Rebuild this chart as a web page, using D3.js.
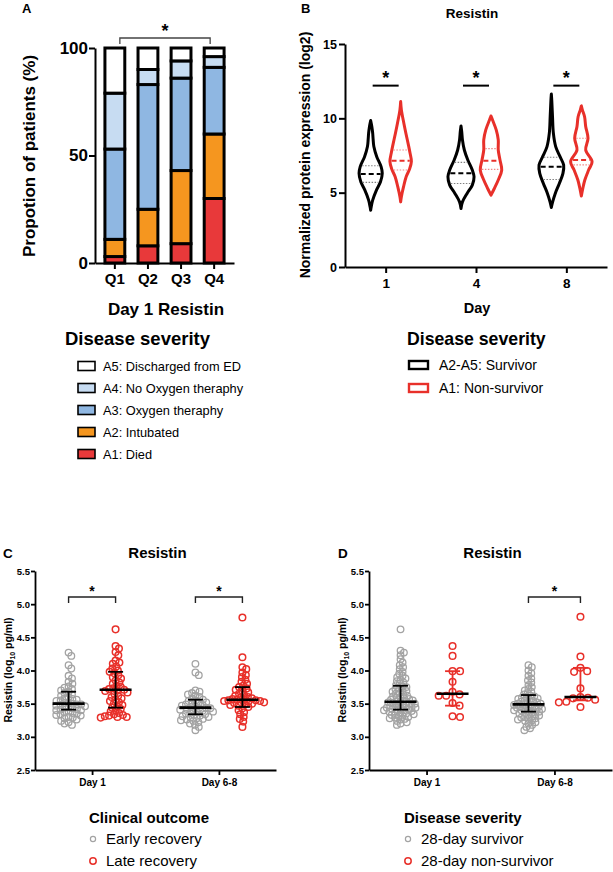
<!DOCTYPE html>
<html>
<head>
<meta charset="utf-8">
<script src="https://cdn.jsdelivr.net/npm/d3@7"></script>
<style>
  body { margin: 0; background: #fff; }
  svg { font-family: "Liberation Sans", Arial, Helvetica, sans-serif; }
</style>
</head>
<body>
<div class="chart"></div>
<script>
// ---------- Panel A data: proportion of patients (%) per Day 1 resistin quartile ----------
var quartiles = ["Q1", "Q2", "Q3", "Q4"];
var severityKeys = ["A1", "A2", "A3", "A4", "A5"];
var severityLabels = ["A5: Discharged from ED", "A4: No Oxygen theraphy", "A3: Oxygen theraphy", "A2: Intubated", "A1: Died"];
var died = [3, 8, 9, 30];
var intubated = [8, 17, 34, 30];
var oxygen = [42, 58, 43, 31];
var noOxygen = [26, 7, 8, 5];
var discharged = [21, 10, 6, 4];

// ---------- Panel B data: violin outlines [value, relative density] ----------
var days = ["1", "4", "8"];
var violinGroups = ["A2-A5: Survivor", "A1: Non-survivor"];
var survivorProfiles = [
  [[3.82, 0], [4.05, 0.04], [4.5, 0.14], [5.17, 0.4], [5.73, 0.68], [6.3, 0.8], [6.75, 0.72], [7.42, 0.42], [8.1, 0.22], [8.6, 0.17], [9.0, 0.14], [9.45, 0.08], [9.85, 0]],
  [[3.94, 0], [4.38, 0.1], [4.95, 0.42], [5.51, 0.78], [6.07, 0.9], [6.52, 0.78], [7.2, 0.47], [7.87, 0.23], [8.55, 0.1], [9.1, 0.05], [9.49, 0]],
  [[4.0, 0], [4.38, 0.09], [4.95, 0.27], [5.62, 0.55], [6.3, 0.8], [6.86, 0.85], [7.42, 0.6], [8.1, 0.3], [9.0, 0.14], [10.12, 0.08], [11.2, 0.03], [11.63, 0]]
];
var nonSurvivorProfiles = [
  [[4.38, 0], [4.72, 0.05], [5.4, 0.2], [6.07, 0.38], [6.6, 0.62], [7.1, 0.74], [7.7, 0.64], [8.1, 0.56], [9.0, 0.36], [9.67, 0.22], [10.57, 0.05], [11.13, 0]],
  [[4.83, 0], [5.28, 0.23], [5.85, 0.5], [6.52, 0.74], [7.2, 0.62], [7.87, 0.5], [8.55, 0.5], [9.22, 0.36], [9.9, 0.1], [10.16, 0]],
  [[4.77, 0], [5.28, 0.1], [5.85, 0.24], [6.52, 0.5], [7.08, 0.74], [7.87, 0.3], [8.66, 0.46], [9.45, 0.3], [10.12, 0.22], [10.57, 0.07], [10.84, 0]]
];
// [lower quartile, median, upper quartile]
var survivorQuartiles = [[5.69, 6.25, 6.81], [5.62, 6.30, 7.04], [5.89, 6.75, 7.38]];
var nonSurvivorQuartiles = [[6.52, 7.15, 7.87], [6.57, 7.15, 7.96], [6.87, 7.20, 8.66]];

// ---------- Panel C / D data: resistin (log10 pg/ml) ----------
var timepoints = ["Day 1", "Day 6-8"];
var outcomeGroups = ["Early recovery", "Late recovery"];
var earlyDay1 = [4.27, 4.22, 4.08, 4.03, 3.92, 3.88, 3.83, 3.80, 3.76, 3.74, 3.72, 3.70, 3.68, 3.66, 3.64, 3.62, 3.60, 3.58, 3.57, 3.56, 3.55, 3.54, 3.52, 3.51, 3.50, 3.49, 3.49, 3.48, 3.47, 3.46, 3.45, 3.44, 3.43, 3.42, 3.41, 3.40, 3.40, 3.38, 3.37, 3.36, 3.35, 3.34, 3.33, 3.32, 3.30, 3.29, 3.28, 3.26, 3.24, 3.22, 3.20, 3.18];
var lateDay1 = [4.62, 4.37, 4.33, 4.28, 4.23, 4.15, 4.12, 4.10, 4.06, 4.03, 4.00, 3.98, 3.96, 3.93, 3.90, 3.88, 3.85, 3.82, 3.80, 3.77, 3.75, 3.73, 3.72, 3.71, 3.70, 3.69, 3.67, 3.65, 3.62, 3.60, 3.58, 3.56, 3.54, 3.52, 3.50, 3.48, 3.46, 3.44, 3.42, 3.40, 3.38, 3.36, 3.34, 3.33, 3.32, 3.31, 3.30, 3.30, 3.29];
var earlyDay68 = [4.10, 3.97, 3.93, 3.70, 3.68, 3.66, 3.64, 3.62, 3.60, 3.58, 3.56, 3.55, 3.54, 3.52, 3.51, 3.50, 3.49, 3.48, 3.47, 3.46, 3.45, 3.44, 3.43, 3.43, 3.42, 3.41, 3.40, 3.39, 3.38, 3.37, 3.36, 3.35, 3.34, 3.33, 3.32, 3.31, 3.30, 3.29, 3.28, 3.27, 3.26, 3.25, 3.24, 3.22, 3.20, 3.18, 3.15, 3.10];
var lateDay68 = [4.80, 4.20, 4.05, 4.02, 3.97, 3.93, 3.90, 3.86, 3.83, 3.80, 3.77, 3.75, 3.73, 3.71, 3.69, 3.67, 3.65, 3.63, 3.62, 3.60, 3.59, 3.58, 3.57, 3.56, 3.56, 3.55, 3.55, 3.54, 3.54, 3.53, 3.52, 3.52, 3.51, 3.50, 3.49, 3.48, 3.47, 3.45, 3.43, 3.40, 3.37, 3.34, 3.30, 3.27, 3.23, 3.15];
// [lower bar, median, upper bar]
var earlySummary = [[3.41, 3.50, 3.68], [3.34, 3.44, 3.56]];
var lateSummary = [[3.44, 3.71, 3.98], [3.45, 3.56, 3.75]];

var survivalGroups = ["28-day survivor", "28-day non-survivor"];
var survivorDay1 = [4.62, 4.30, 4.27, 4.23, 4.17, 4.12, 4.08, 4.05, 4.02, 3.98, 3.95, 3.92, 3.90, 3.88, 3.86, 3.84, 3.82, 3.80, 3.78, 3.76, 3.75, 3.73, 3.72, 3.70, 3.69, 3.68, 3.66, 3.65, 3.64, 3.62, 3.61, 3.60, 3.59, 3.58, 3.57, 3.56, 3.55, 3.54, 3.53, 3.53, 3.52, 3.51, 3.50, 3.50, 3.49, 3.48, 3.47, 3.47, 3.46, 3.45, 3.44, 3.44, 3.43, 3.42, 3.42, 3.41, 3.40, 3.40, 3.39, 3.38, 3.37, 3.36, 3.35, 3.34, 3.33, 3.32, 3.31, 3.30, 3.29, 3.28, 3.27, 3.26, 3.24, 3.22, 3.20, 3.18];
var nonSurvivorDay1 = [4.37, 4.22, 3.99, 3.99, 3.83, 3.68, 3.64, 3.62, 3.62, 3.51, 3.47, 3.31, 3.30];
var survivorDay68 = [4.08, 4.05, 4.00, 3.96, 3.92, 3.88, 3.85, 3.82, 3.78, 3.75, 3.72, 3.70, 3.68, 3.66, 3.64, 3.62, 3.61, 3.60, 3.59, 3.58, 3.57, 3.56, 3.55, 3.54, 3.53, 3.52, 3.51, 3.50, 3.50, 3.49, 3.48, 3.48, 3.47, 3.46, 3.45, 3.45, 3.44, 3.43, 3.42, 3.42, 3.41, 3.40, 3.40, 3.39, 3.38, 3.37, 3.36, 3.35, 3.34, 3.33, 3.32, 3.31, 3.30, 3.29, 3.28, 3.27, 3.26, 3.25, 3.24, 3.22, 3.20, 3.18, 3.15, 3.13, 3.10];
var nonSurvivorDay68 = [4.81, 4.21, 4.04, 3.99, 3.98, 3.73, 3.60, 3.59, 3.58, 3.56, 3.53, 3.52, 3.45];
var survivorSummary = [[3.41, 3.53, 3.77], [3.38, 3.49, 3.63]];
var nonSurvivorSummary = [[3.47, 3.65, 3.99], [3.55, 3.60, 4.04]];

// ---------- common ----------
var font = "'Liberation Sans', Arial, Helvetica, sans-serif";
var red = "#e8302a";
var gray = "#a3a3a3";

var svg = d3.select(".chart")
  .append("svg")
  .attr("width", 613)
  .attr("height", 872);

function styleAxis(g, fontSize, strokeWidth) {
  g.attr("font-family", font).attr("font-size", fontSize).attr("font-weight", "bold");
  g.select(".domain").attr("stroke-width", strokeWidth);
  g.selectAll(".tick line").attr("stroke-width", strokeWidth);
  g.selectAll(".tick text").attr("fill", "#000");
}

function label(x, y, text, size, weight, anchor) {
  return svg.append("text")
    .attr("x", x).attr("y", y)
    .attr("font-size", size)
    .attr("font-weight", weight || "bold")
    .attr("text-anchor", anchor || "start")
    .text(text);
}

// ================= Panel A =================
label(22, 13, "A", 13);

var xA = d3.scaleBand().domain(quartiles).range([95, 234]).paddingInner(0.4).paddingOuter(0.3);
var yA = d3.scaleLinear().domain([0, 100]).range([263, 48]);
var colorA = d3.scaleOrdinal().domain(severityKeys).range(["#e8393a", "#f5961f", "#8fb7e2", "#c7dcf2", "#ffffff"]);

var rowsA = quartiles.map(function(q, i) {
  return { q: q, A1: died[i], A2: intubated[i], A3: oxygen[i], A4: noOxygen[i], A5: discharged[i] };
});
var stackA = d3.stack().keys(severityKeys)(rowsA);

var barsA = svg.append("g");
stackA.forEach(function(layer) {
  barsA.selectAll(null)
    .data(layer)
    .enter()
    .append("rect")
    .attr("x", d => xA(d.data.q))
    .attr("y", d => yA(d[1]))
    .attr("width", xA.bandwidth())
    .attr("height", d => yA(d[0]) - yA(d[1]))
    .attr("fill", colorA(layer.key))
    .attr("stroke", "#000")
    .attr("stroke-width", 3);
});

var axA_y = svg.append("g")
  .attr("transform", "translate(95,0)")
  .call(d3.axisLeft(yA).tickValues([0, 50, 100]).tickSize(6).tickPadding(1).tickSizeOuter(0));
styleAxis(axA_y, 17, 2);
var axA_x = svg.append("g")
  .attr("transform", "translate(0,263)")
  .call(d3.axisBottom(xA).tickSize(6).tickPadding(4).tickSizeOuter(0));
styleAxis(axA_x, 15, 2);

svg.append("text")
  .attr("transform", "translate(35,156) rotate(-90)")
  .attr("text-anchor", "middle")
  .attr("font-size", 17)
  .attr("font-weight", "bold")
  .text("Propotion of patients (%)");

label(166, 315, "Day 1 Resistin", 17, "bold", "middle");

// significance bracket Q1 vs Q4
var bx0 = xA("Q1") + xA.bandwidth() / 2 + 5, bx1 = xA("Q4") + xA.bandwidth() / 2 - 4;
svg.append("path")
  .attr("d", `M${bx0},44V38H${bx1}V44`)
  .attr("fill", "none").attr("stroke", "#444").attr("stroke-width", 1.3);
label((bx0 + bx1) / 2, 37, "*", 18, "bold", "middle");

// legend A
label(65, 345, "Disease severity", 18.5);
var legA = d3.scalePoint().domain(severityLabels).range([366, 454]);
var legKeyA = ["A5", "A4", "A3", "A2", "A1"];
severityLabels.forEach(function(t, i) {
  svg.append("rect")
    .attr("x", 78).attr("y", legA(t) - 4.5)
    .attr("width", 17).attr("height", 9)
    .attr("fill", colorA(legKeyA[i]))
    .attr("stroke", "#000").attr("stroke-width", 1.6);
  label(103, legA(t) + 4.5, t, 12.8, "normal");
});

// ================= Panel B =================
label(301, 13, "B", 13);
label(472, 18, "Resistin", 13.5, "bold", "middle");

var xB = d3.scalePoint().domain(days).range([345, 607]).padding(0.45);
var gB = d3.scaleBand().domain(violinGroups).range([-30, 30]);
var yB = d3.scaleLinear().domain([0, 15]).range([267, 44]);
var wB = d3.scaleLinear().domain([0, 1]).range([0, 14.5]);

function densityAt(profile, v) {
  var i = d3.bisector(d => d[0]).left(profile, v);
  if (i <= 0) return profile[0][1];
  if (i >= profile.length) return profile[profile.length - 1][1];
  var a = profile[i - 1], b = profile[i];
  return a[1] + (b[1] - a[1]) * (v - a[0]) / (b[0] - a[0]);
}

function drawViolin(profile, quart, cx, color, lightColor) {
  var area = d3.area()
    .curve(d3.curveCatmullRom)
    .y(d => yB(d[0]))
    .x0(d => cx - wB(d[1]))
    .x1(d => cx + wB(d[1]));
  svg.append("path")
    .attr("d", area(profile))
    .attr("fill", "#fff")
    .attr("stroke", color)
    .attr("stroke-width", 3)
    .attr("stroke-linejoin", "round");
  [quart[0], quart[2]].forEach(function(q) {
    var w = wB(densityAt(profile, q)) - 1.5;
    svg.append("line")
      .attr("x1", cx - w).attr("x2", cx + w)
      .attr("y1", yB(q)).attr("y2", yB(q))
      .attr("stroke", lightColor).attr("stroke-width", 1.1)
      .attr("stroke-dasharray", "1.5,1.5");
  });
  var wm = wB(densityAt(profile, quart[1])) - 1.5;
  svg.append("line")
    .attr("x1", cx - wm).attr("x2", cx + wm)
    .attr("y1", yB(quart[1])).attr("y2", yB(quart[1]))
    .attr("stroke", color).attr("stroke-width", 2)
    .attr("stroke-dasharray", "5,3");
}

days.forEach(function(d, i) {
  drawViolin(survivorProfiles[i], survivorQuartiles[i], xB(d) + gB.bandwidth() / 2 + gB(violinGroups[0]), "#000", "#808080");
  drawViolin(nonSurvivorProfiles[i], nonSurvivorQuartiles[i], xB(d) + gB.bandwidth() / 2 + gB(violinGroups[1]), red, "#f08888");
  var s0 = xB(d) + gB(violinGroups[0]) + gB.bandwidth() / 2 + 2;
  var s1 = xB(d) + gB(violinGroups[1]) + gB.bandwidth() / 2 - 2;
  svg.append("line")
    .attr("x1", s0).attr("x2", s1)
    .attr("y1", yB(12.2)).attr("y2", yB(12.2))
    .attr("stroke", "#000").attr("stroke-width", 2);
  label((s0 + s1) / 2, yB(12.2) - 2, "*", 18, "bold", "middle");
});

var axB_y = svg.append("g")
  .attr("transform", "translate(345,0)")
  .call(d3.axisLeft(yB).tickValues([0, 5, 10, 15]).tickSize(6).tickPadding(2).tickSizeOuter(0));
styleAxis(axB_y, 12.5, 2);
var axB_x = svg.append("g")
  .attr("transform", "translate(0,267)")
  .call(d3.axisBottom(xB).tickSize(6).tickPadding(5).tickSizeOuter(0));
styleAxis(axB_x, 13.5, 2);

svg.append("text")
  .attr("transform", "translate(310,155) rotate(-90)")
  .attr("text-anchor", "middle")
  .attr("font-size", 14)
  .attr("font-weight", "bold")
  .text("Normalized protein expression (log2)");

label(477, 313, "Day", 14.5, "bold", "middle");

// legend B
label(407, 345, "Disease severity", 17.7);
var legB = d3.scalePoint().domain(violinGroups).range([365, 388]);
violinGroups.forEach(function(t, i) {
  svg.append("rect")
    .attr("x", 409).attr("y", legB(t) - 4)
    .attr("width", 19).attr("height", 8)
    .attr("fill", "#fff")
    .attr("stroke", i === 0 ? "#000" : red).attr("stroke-width", 2.4);
  label(439, legB(t) + 5, t, 14, "normal");
});

// ================= Panels C and D =================
function swarm(values, yScale, diameter) {
  var nodes = values.map(v => ({ v: v, y: yScale(v) })).sort((a, b) => a.y - b.y);
  var placed = [];
  nodes.forEach(function(n) {
    var near = placed.filter(p => Math.abs(p.y - n.y) < diameter);
    var cands = [0];
    near.forEach(function(p) {
      var dx = Math.sqrt(diameter * diameter - (p.y - n.y) * (p.y - n.y));
      cands.push(p.x + dx, p.x - dx);
    });
    cands.sort((a, b) => Math.abs(a) - Math.abs(b));
    for (var k = 0; k < cands.length; k++) {
      var c = cands[k];
      if (near.every(p => (p.x - c) * (p.x - c) + (p.y - n.y) * (p.y - n.y) >= diameter * diameter - 0.01)) { n.x = c; break; }
    }
    placed.push(n);
  });
  return nodes;
}

function scatterPanel(opt) {
  var x = d3.scalePoint().domain(timepoints).range(opt.xRange).padding(0.45);
  var g = d3.scaleBand().domain(opt.groups).range([-opt.offset * 2, opt.offset * 2]);
  var y = d3.scaleLinear().domain([2.5, 5.5]).range([770, 571]);
  var gx = function(t, grp) { return x(t) + g(grp) + g.bandwidth() / 2; };

  label(opt.letterX, 558, opt.letter, 13.5);
  label((opt.xRange[0] + opt.xRange[1]) / 2 + 2, 558, "Resistin", 15, "bold", "middle");

  timepoints.forEach(function(t, ti) {
    opt.groups.forEach(function(grp, gi) {
      var vals = opt.values[gi][ti];
      var col = gi === 0 ? gray : red;
      var nodes = swarm(vals, y, opt.spacing[gi]);
      svg.append("g").selectAll("circle")
        .data(nodes)
        .enter()
        .append("circle")
        .attr("cx", d => gx(t, grp) + d.x)
        .attr("cy", d => d.y)
        .attr("r", 3.3)
        .attr("fill", "none")
        .attr("stroke", col)
        .attr("stroke-width", gi === 0 ? 1.3 : 1.5);
    });
    opt.groups.forEach(function(grp, gi) {
      var s = opt.summary[gi][ti];
      var cx = gx(t, grp);
      var barCol = (opt.redBars && gi === 1) ? red : "#000";
      svg.append("line")
        .attr("x1", cx).attr("x2", cx).attr("y1", y(s[0])).attr("y2", y(s[2]))
        .attr("stroke", barCol).attr("stroke-width", 1.8);
      [s[0], s[2]].forEach(function(v) {
        svg.append("line")
          .attr("x1", cx - 7.5).attr("x2", cx + 7.5).attr("y1", y(v)).attr("y2", y(v))
          .attr("stroke", barCol).attr("stroke-width", 1.8);
      });
      svg.append("line")
        .attr("x1", cx - 16).attr("x2", cx + 16).attr("y1", y(s[1])).attr("y2", y(s[1]))
        .attr("stroke", "#000").attr("stroke-width", 2.6);
    });
  });

  opt.signif.forEach(function(t) {
    var a = gx(t, opt.groups[0]), b = gx(t, opt.groups[1]);
    svg.append("path")
      .attr("d", `M${a},603V597H${b}V603`)
      .attr("fill", "none").attr("stroke", "#222").attr("stroke-width", 1.4);
    label((a + b) / 2, 596, "*", 14, "bold", "middle");
  });

  var ay = svg.append("g")
    .attr("transform", `translate(${opt.xRange[0]},0)`)
    .call(d3.axisLeft(y).tickValues([2.5, 3, 3.5, 4, 4.5, 5, 5.5]).tickFormat(d3.format(".1f")).tickSize(4).tickPadding(1).tickSizeOuter(0));
  styleAxis(ay, 9.5, 1.8);
  var ax = svg.append("g")
    .attr("transform", "translate(0,770)")
    .call(d3.axisBottom(x).tickSize(5).tickPadding(4).tickSizeOuter(0));
  styleAxis(ax, 10, 1.8);

  var yl = svg.append("text")
    .attr("transform", `translate(${opt.xRange[0] - 23},670) rotate(-90)`)
    .attr("text-anchor", "middle")
    .attr("font-size", 10.5)
    .attr("font-weight", "bold");
  yl.append("tspan").text("Resistin (log");
  yl.append("tspan").attr("font-size", 7).attr("dy", 2.5).text("10");
  yl.append("tspan").attr("dy", -2.5).text(" pg/ml)");

  // legend
  label(opt.legX, 823, opt.legTitle, 15);
  var legY = d3.scalePoint().domain(opt.groups).range([839, 861]);
  opt.groups.forEach(function(grp, gi) {
    svg.append("circle")
      .attr("cx", opt.legX + 4).attr("cy", legY(grp))
      .attr("r", gi === 0 ? 2.6 : 3.2)
      .attr("fill", "none")
      .attr("stroke", gi === 0 ? gray : red)
      .attr("stroke-width", gi === 0 ? 1.2 : 1.5);
    label(opt.legX + 17, legY(grp) + 5, grp, 15, "normal");
  });
}

scatterPanel({
  letter: "C", letterX: 3,
  xRange: [35, 276],
  offset: 23.5,
  spacing: [4.3, 4.3],
  groups: outcomeGroups,
  values: [[earlyDay1, earlyDay68], [lateDay1, lateDay68]],
  summary: [earlySummary, lateSummary],
  signif: ["Day 1", "Day 6-8"],
  redBars: false,
  legTitle: "Clinical outcome", legX: 89
});

scatterPanel({
  letter: "D", letterX: 338,
  xRange: [369, 612],
  offset: 26,
  spacing: [3.9, 7.5],
  groups: survivalGroups,
  values: [[survivorDay1, survivorDay68], [nonSurvivorDay1, nonSurvivorDay68]],
  summary: [survivorSummary, nonSurvivorSummary],
  signif: ["Day 6-8"],
  redBars: true,
  legTitle: "Disease severity", legX: 404
});
</script>
</body>
</html>
